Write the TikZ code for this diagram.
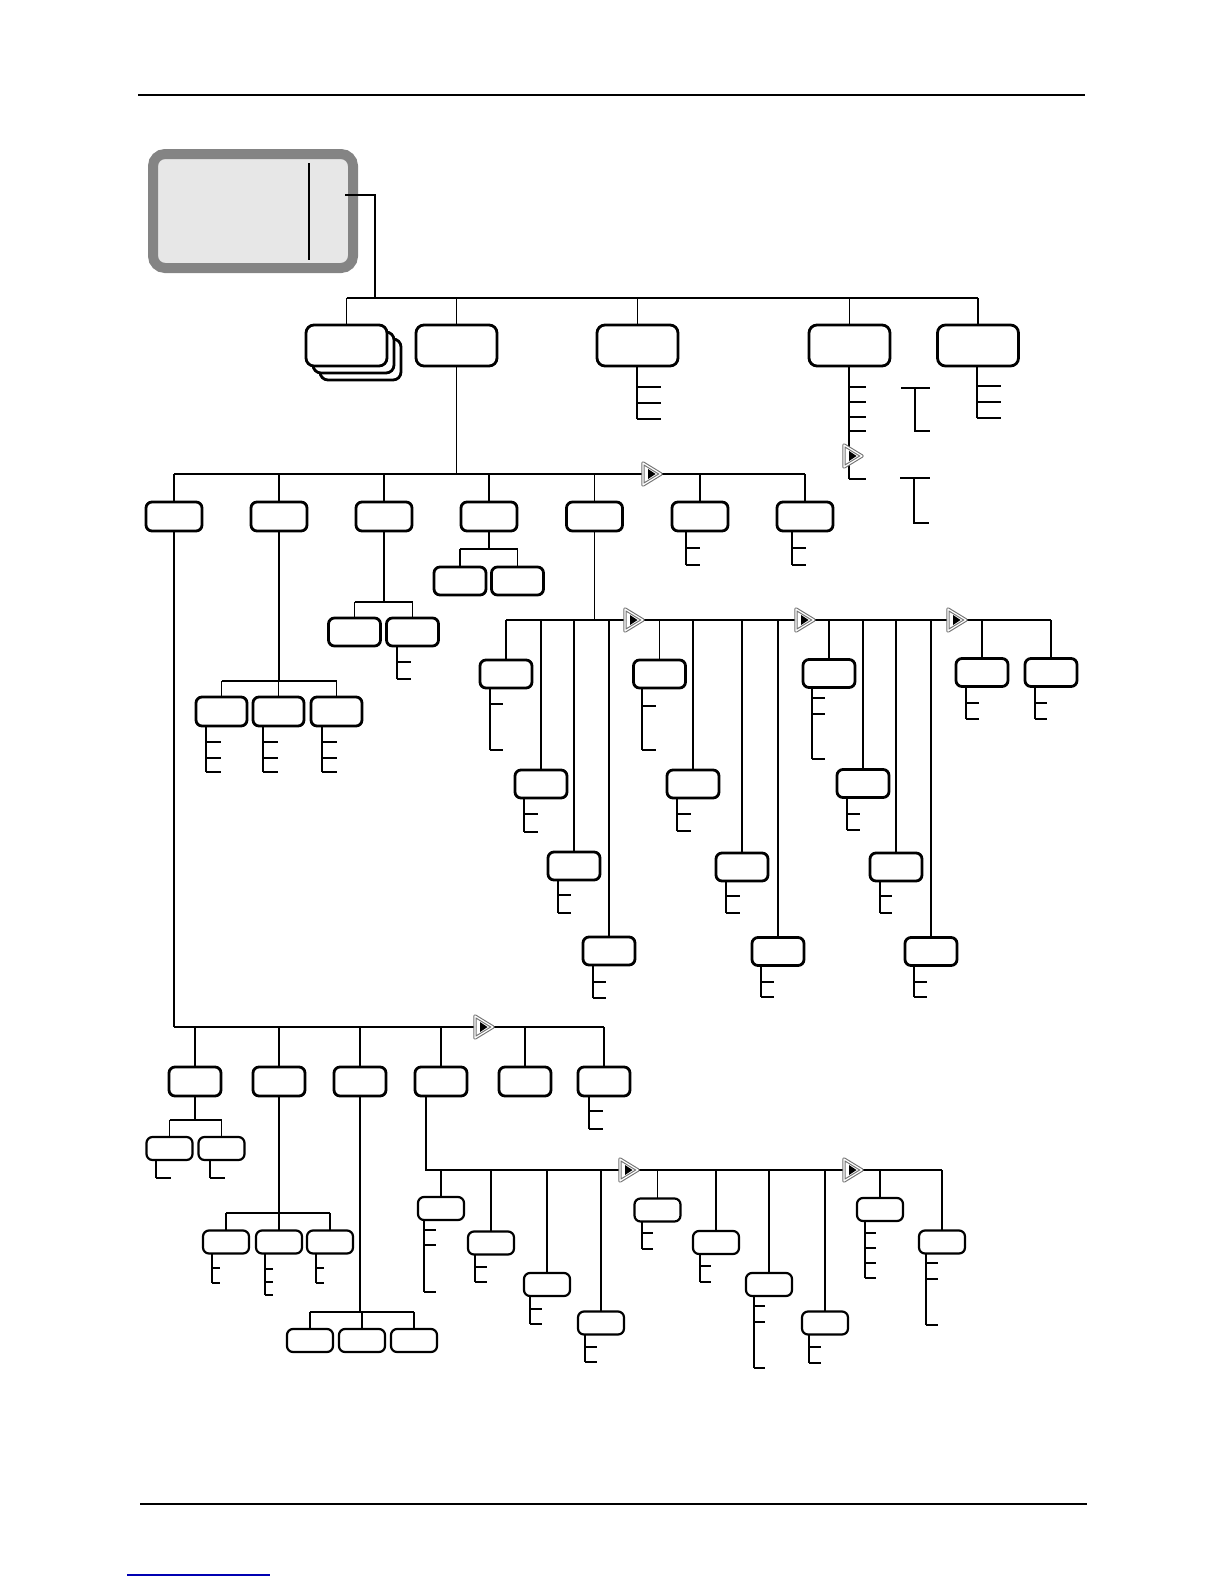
\documentclass[tikz,border=0pt]{standalone}
\usepackage{xcolor}
\usepackage{tikz}
\usetikzlibrary{calc}

\definecolor{lcdgray}{RGB}{132,132,132}
\definecolor{lcdfill}{RGB}{231,231,231}

\begin{document}
\begin{tikzpicture}[x=0.5pt,y=-0.5pt,
  bx/.style={draw,line width=1.4pt,fill=white,rounded corners=3pt,inner sep=0pt,outer sep=0pt},
  topbx/.style={bx,rounded corners=4pt,minimum width=40.5pt,minimum height=20.5pt},
  rowbx/.style={bx,minimum width=28pt,minimum height=14.5pt},
  sbx/.style={bx,minimum width=26pt,minimum height=14pt},
  tbx/.style={bx,line width=1.1pt,minimum width=23pt,minimum height=11.5pt},
  bus/.style={line width=1pt},
  tk/.style={line width=0.8pt},
  mk/.style={draw=gray!90!black,double=white,double distance=0.6pt,line width=0.55pt,line join=round,fill=white}]
\useasboundingbox (0,0) rectangle (1224,1584);
% --- page rules ---
\draw[line width=0.6pt] (138,95) -- (1085,95);
\draw[line width=0.6pt] (140,1504) -- (1087,1504);
\draw[blue!70!black,line width=0.6pt] (127,1575) -- (270,1575);
% --- display ---
\node[draw=lcdgray,fill=lcdfill,line width=5pt,rounded corners=6pt,minimum width=100pt,minimum height=57pt,inner sep=0pt] (lcd) at (253,211) {};
\draw[line width=1pt] (309,163) -- (309,260);
\coordinate (lcdout) at (345,195);
\coordinate (lcdbus) at (375,298);
\draw[bus] (lcdout) -| (lcdbus);
% --- level 1 ---
\coordinate (b0) at (0,298);
\foreach \n/\x/\y in {s3/360.5/359.5,s2/353.5/352.5,s1/346.5/345.5,t1/456.5/345.5,t2/637.5/345.5,t3/849.5/345.5,t4/978/345.5}
  \node[topbx] (\n) at (\x,\y) {};
\draw[bus] (s1.north |- b0) -- (t4.north |- b0);
\foreach \n in {s1,t1,t2,t3,t4} \draw[tk] (\n.north) -- (\n.north |- b0);
\foreach \n/\x/\ye/\l/\tl in {t2/637/419/24/{387,403,419},t3/849/479/17/{387,402,417,431,479},t4/977/418/24/{386,402,418}}{
  \draw[tk] (\x,0 |- \n.south) -- (\x,\ye);
  \foreach \ty in \tl \draw[tk] (\x,\ty) -- ++(\l,0);}
\draw[tk] (901,388) -- (930,388) (915,388) |- (930,431);
\draw[tk] (900,478) -- (930,478) (914,478) |- (929,523);
% --- level 2 ---
\coordinate (b1) at (0,474);
\draw[tk] (t1.south) -- (t1.south |- b1);
\foreach \n/\x in {r1/174,r2/279,r3/384,r4/489,r5/594.5,r6/700,r7/805}
  \node[rowbx] (\n) at (\x,516.5) {};
\draw[bus] (r1.north |- b1) -- (r7.north |- b1);
\foreach \n in {r1,r2,r3,r4,r5,r6,r7} \draw[tk] (\n.north) -- (\n.north |- b1);
\foreach \n/\x in {r6/686,r7/792}{
  \draw[tk] (\x,0 |- \n.south) -- (\x,565);
  \foreach \ty in {548,565} \draw[tk] (\x,\ty) -- ++(14,0);}
% B branch
\coordinate (bB) at (0,681);
\foreach \n/\x in {rb1/221.5,rb2/278.5,rb3/336.5}
  \node[bx,minimum width=25.5pt,minimum height=14.5pt] (\n) at (\x,711.5) {};
\draw[tk] (r2.south) -- (r2.south |- bB);
\draw[bus] (rb1.north |- bB) -- (rb3.north |- bB);
\foreach \n/\x in {rb1/206,rb2/263,rb3/322}{
  \draw[tk] (\n.north) -- (\n.north |- bB);
  \draw[tk] (\x,0 |- \n.south) -- (\x,772);
  \foreach \ty in {742,758,772} \draw[tk] (\x,\ty) -- ++(15,0);}
% C branch
\coordinate (bC) at (0,602);
\foreach \n/\x in {rc1/354.5,rc2/412.5} \node[sbx] (\n) at (\x,632) {};
\draw[tk] (r3.south) -- (r3.south |- bC);
\draw[bus] (rc1.north |- bC) -- (rc2.north |- bC);
\foreach \n in {rc1,rc2} \draw[tk] (\n.north) -- (\n.north |- bC);
\draw[tk] (397,0 |- rc2.south) -- (397,679);
\foreach \ty in {662,679} \draw[tk] (397,\ty) -- ++(14,0);
% D branch
\coordinate (bD) at (0,549);
\foreach \n/\x in {rd1/460,rd2/517.5} \node[sbx] (\n) at (\x,581) {};
\draw[bus] (r4.south) -- (r4.south |- bD);
\draw[bus] (rd1.north |- bD) -- (rd2.north |- bD);
\foreach \n in {rd1,rd2} \draw[tk] (\n.north) -- (\n.north |- bD);
% --- E branch ---
\coordinate (bE) at (0,620);
\foreach \n/\x/\y in {e1/506/674,e2/541/784,e3/574/866,e4/609/951,e5/659.5/674,e6/693/784,e7/742/867,e8/778/951.5,
  e9/829/673.5,e10/863/783.5,e11/896/867,e12/931/951.5,e13/982/672.5,e14/1051/672.5}
  \node[sbx] (\n) at (\x,\y) {};
\draw[tk] (r5.south) -- (r5.south |- bE);
\draw[bus] (e1.north |- bE) -- (e14.north |- bE);
\foreach \n in {e1,e2,e3,e4,e5,e6,e7,e8,e9,e10,e11,e12,e13,e14} \draw[tk] (\n.north) -- (\n.north |- bE);
\foreach \n/\x/\ye/\l/\tl in {e1/490/750/13/{704,750},e2/524/832/14/{814,832},e3/558/913/13/{895,913},e4/593/998/13/{982,998},
  e5/642/750/14/{706,750},e6/677/831/14/{814,831},e7/726/913/14/{896,913},e8/761/997/13/{982,997},
  e9/812/759/13/{698,714,759},e10/847/830/13/{814,830},e11/880/913/12/{896,913},e12/914/997/13/{982,997},
  e13/966/719/13/{703,719},e14/1035/719/12/{703,719}}{
  \draw[tk] (\x,0 |- \n.south) -- (\x,\ye);
  \foreach \ty in \tl \draw[tk] (\x,\ty) -- ++(\l,0);}
% --- A branch ---
\coordinate (bA) at (0,1027);
\foreach \n/\x in {ra1/195,ra2/279,ra3/360,ra4/441,ra5/525,ra6/604}
  \node[bx,minimum width=26pt,minimum height=14.5pt] (\n) at (\x,1081.5) {};
\draw[tk] (r1.south) -- (r1.south |- bA);
\draw[bus] (r1.south |- bA) -- (ra6.north |- bA);
\foreach \n in {ra1,ra2,ra3,ra4,ra5,ra6} \draw[tk] (\n.north) -- (\n.north |- bA);
\draw[tk] (589,0 |- ra6.south) -- (589,1129);
\foreach \ty in {1111,1129} \draw[tk] (589,\ty) -- ++(14,0);
% A1 / A2 / A3
\coordinate (bA1) at (0,1120);
\coordinate (bA2) at (0,1213);
\coordinate (bA3) at (0,1312);
\foreach \n/\x in {a1a/169.5,a1b/221.5} \node[tbx] (\n) at (\x,1148.5) {};
\foreach \n/\x in {a2a/226,a2b/279,a2c/330} \node[tbx] (\n) at (\x,1242) {};
\foreach \n/\x in {a3a/310,a3b/362,a3c/414} \node[tbx] (\n) at (\x,1340.5) {};
\draw[tk] (ra1.south) -- (ra1.south |- bA1);
\draw[bus] (a1a.north |- bA1) -- (a1b.north |- bA1);
\draw[tk] (ra2.south) -- (ra2.south |- bA2);
\draw[tk] (a2a.north |- bA2) -- (a2c.north |- bA2);
\draw[tk] (ra3.south) -- (ra3.south |- bA3);
\draw[tk] (a3a.north |- bA3) -- (a3c.north |- bA3);
\foreach \n/\b in {a1a/bA1,a1b/bA1,a2a/bA2,a2b/bA2,a2c/bA2,a3a/bA3,a3b/bA3,a3c/bA3}
  \draw[tk] (\n.north) -- (\n.north |- \b);
\foreach \n/\x/\ye/\l/\tl in {a1a/156/1178/15/{1178},a1b/210/1178/15/{1178},
  a2a/212/1283/8/{1268,1283},a2b/265/1295/8/{1269,1282,1295},a2c/316/1283/8/{1268,1283}}{
  \draw[tk] (\x,0 |- \n.south) -- (\x,\ye);
  \foreach \ty in \tl \draw[tk] (\x,\ty) -- ++(\l,0);}
% A4 -> F
\coordinate (bF) at (0,1170);
\foreach \n/\x/\y in {f1/441/1208.5,f2/491/1243,f3/547/1284.5,f4/601/1323,f5/657.5/1210,
  f6/716/1242.5,f7/769/1284.5,f8/825/1323,f9/880/1209.5,f10/942/1242}
  \node[tbx] (\n) at (\x,\y) {};
\draw[bus] (426,0 |- ra4.south) |- (f10.north |- bF);
\foreach \n in {f1,f2,f3,f4,f5,f6,f7,f8,f9,f10} \draw[tk] (\n.north) -- (\n.north |- bF);
\foreach \n/\x/\ye/\l/\tl in {f1/424/1292/12/{1230,1245,1292},f2/475/1282/12/{1267,1282},f3/530/1324/12/{1309,1324},
  f4/585/1362/12/{1347,1362},f5/642/1249/11/{1233,1249},f6/700/1282/11/{1266,1282},f7/754/1368/11/{1306,1322,1368},
  f8/809/1363/12/{1347,1363},f9/865/1278/11/{1233,1248,1263,1278},f10/926/1325/12/{1263,1279,1325}}{
  \draw[tk] (\x,0 |- \n.south) -- (\x,\ye);
  \foreach \ty in \tl \draw[tk] (\x,\ty) -- ++(\l,0);}
% --- continuation marks ---
\foreach \mx/\my in {652/474,853/456,634/620,805/620,957/620,484/1027,629/1170,853/1170}{
  \filldraw[mk] (\mx-9,\my-11) -- (\mx+9,\my) -- (\mx-9,\my+11) -- cycle;
  \fill (\mx-4,\my-5) -- (\mx+3.5,\my) -- (\mx-4,\my+5) -- cycle;}
\end{tikzpicture}
\end{document}
